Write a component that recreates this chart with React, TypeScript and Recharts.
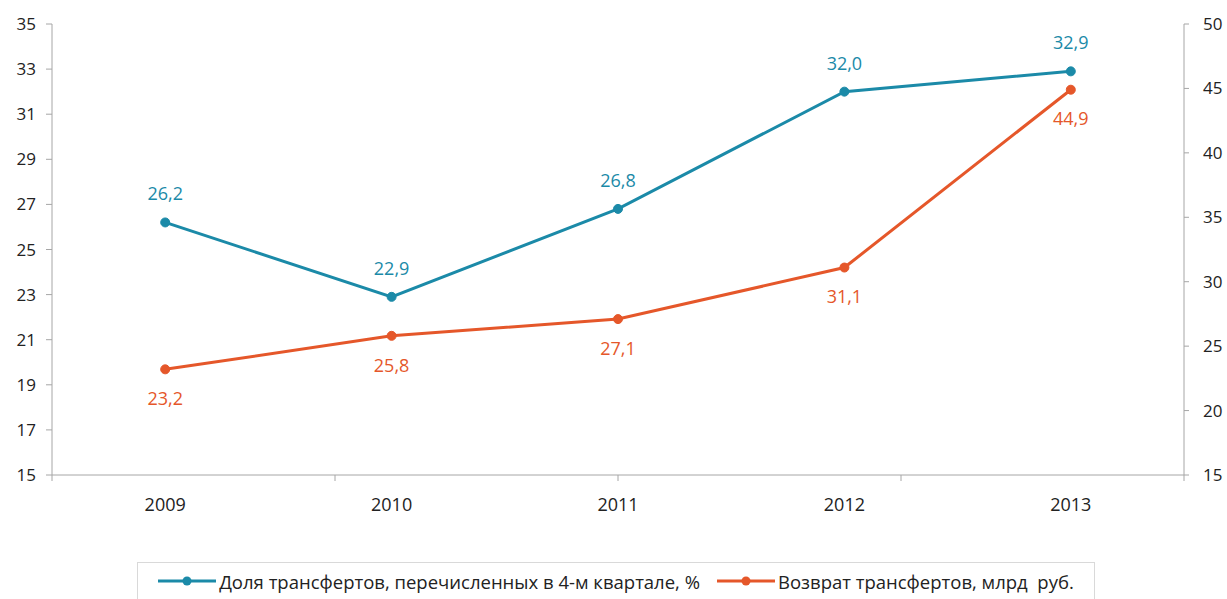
import React from 'react';
import { LineChart, Line, XAxis, YAxis, LabelList, Legend } from 'recharts';

const years = ['2009', '2010', '2011', '2012', '2013'];
const shareQ4 = [26.2, 22.9, 26.8, 32.0, 32.9];
const refunds = [23.2, 25.8, 27.1, 31.1, 44.9];
const leftTicks = [15, 17, 19, 21, 23, 25, 27, 29, 31, 33, 35];
const rightTicks = [15, 20, 25, 30, 35, 40, 45, 50];
const boundaryTicks = [0, 1, 2, 3, 4, 5];

const shareName = 'Доля трансфертов, перечисленных в 4-м квартале, %';
const refundName = 'Возврат трансфертов, млрд  руб.';

const TEAL = '#1B8AA8';
const ORANGE = '#E5572A';
const AXIS = '#A6A6A6';
const FONT = '"Open Sans", sans-serif';

const data = years.map((y, i) => ({ year: y, share: shareQ4[i], refund: refunds[i] }));

const fmt = (v: any) => Number(v).toFixed(1).replace('.', ',');

const LegendContent = () => (
  <div
    style={{
      boxSizing: 'border-box',
      height: 37,
      border: '1px solid #D9D9D9',
      borderBottom: 'none',
      display: 'flex',
      alignItems: 'center',
      justifyContent: 'center',
      fontFamily: FONT,
      fontSize: 18.5,
      color: '#222',
      whiteSpace: 'pre',
    }}
  >
    {[
      { name: shareName, color: TEAL },
      { name: refundName, color: ORANGE },
    ].map((it, i) => (
      <div key={i} style={{ display: 'flex', alignItems: 'center', marginLeft: i ? 17 : 0 }}>
        <svg width={58} height={12} style={{ marginRight: 3 }}>
          <line x1={0} y1={6} x2={58} y2={6} stroke={it.color} strokeWidth={3} />
          <circle cx={29} cy={6} r={4.5} fill={it.color} />
        </svg>
        <span>{it.name}</span>
      </div>
    ))}
  </div>
);

const EmptyTick = () => <g />;

export default function App() {
  return (
    <div style={{ position: 'absolute', left: 0, top: 0, background: '#fff' }}>
      <LineChart width={1227} height={599} data={data} margin={{ top: 24, right: 0, left: 0, bottom: 0 }}>
        <XAxis
          xAxisId="a_grid"
          type="number"
          domain={[0, 5]}
          ticks={boundaryTicks}
          tick={<EmptyTick />}
          height={1}
          stroke={AXIS}
          tickSize={6}
          allowDataOverflow
          interval={0}
        />
        <XAxis
          xAxisId="b_cat"
          dataKey="year"
          scale="band"
          axisLine={false}
          tickLine={false}
          height={86}
          tickMargin={16}
          tick={{ fill: '#222', fontSize: 18, fontFamily: FONT }}
        />
        <YAxis
          yAxisId="left"
          domain={[15, 35]}
          ticks={leftTicks}
          width={52}
          stroke={AXIS}
          tickSize={6}
          tickMargin={10}
          tick={{ fill: '#222', fontSize: 17, fontFamily: FONT }}
          interval={0}
        />
        <YAxis
          yAxisId="right"
          orientation="right"
          domain={[15, 50]}
          ticks={rightTicks}
          width={43}
          stroke={AXIS}
          tickSize={5}
          tickMargin={14}
          tick={{ fill: '#222', fontSize: 17, fontFamily: FONT, textAnchor: 'start' }}
          interval={0}
        />
        <Legend
          verticalAlign="bottom"
          align="left"
          width={958}
          wrapperStyle={{ left: 137 }}
          content={<LegendContent />}
        />
        <Line
          xAxisId="b_cat"
          yAxisId="left"
          dataKey="share"
          name={shareName}
          stroke={TEAL}
          strokeWidth={3}
          dot={{ r: 4.5, fill: TEAL, stroke: TEAL, strokeWidth: 1 }}
          isAnimationActive={false}
        >
          <LabelList dataKey="share" position="top" offset={22} formatter={fmt} fill={TEAL} fontSize={18} fontFamily={FONT} />
        </Line>
        <Line
          xAxisId="b_cat"
          yAxisId="right"
          dataKey="refund"
          name={refundName}
          stroke={ORANGE}
          strokeWidth={3}
          dot={{ r: 4.5, fill: ORANGE, stroke: ORANGE, strokeWidth: 1 }}
          isAnimationActive={false}
        >
          <LabelList dataKey="refund" position="bottom" offset={23} formatter={fmt} fill={ORANGE} fontSize={18} fontFamily={FONT} />
        </Line>
      </LineChart>
    </div>
  );
}
